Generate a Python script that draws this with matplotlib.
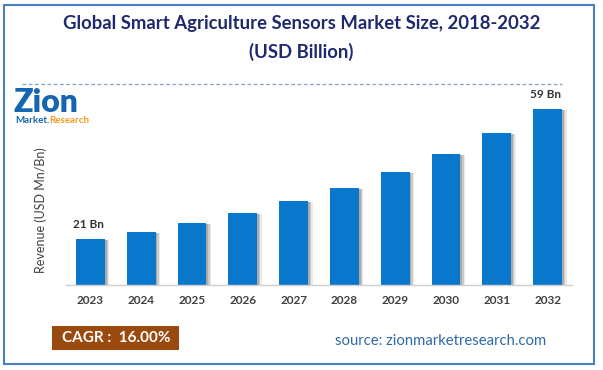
import matplotlib.pyplot as plt
from matplotlib.patches import Rectangle

years = ['2023', '2024', '2025', '2026', '2027', '2028', '2029', '2030', '2031', '2032']
revenue = [21.0, 23.0, 25.7, 28.6, 32.1, 35.9, 40.6, 45.9, 52.0, 59.0]
labels = {0: '21 Bn', 9: '59 Bn'}
cagr_text = 'CAGR :  16.00%'
source_text = 'source: zionmarketresearch.com'

W, H = 603, 370
fig = plt.figure(figsize=(W / 100, H / 100), dpi=100)
plt.rcParams['font.family'] = ['Lato', 'DejaVu Sans']


def fx(px):
    return px / W


def fy(py):
    return 1 - py / H


# outer frame
fig.patches.append(Rectangle((fx(4), fy(364)), fx(594) - fx(4), fy(5) - fy(364),
                             transform=fig.transFigure, fill=False,
                             edgecolor='#4a7fc0', linewidth=1.5))

fig.text(0.5, fy(23), 'Global Smart Agriculture Sensors Market Size, 2018-2032',
         ha='center', va='center', fontsize=13.3, fontweight='bold', color='#1f2a6e')
fig.text(0.5, fy(52), '(USD Billion)', ha='center', va='center',
         fontsize=13.3, fontweight='bold', color='#1f2a6e')
fig.add_artist(plt.Line2D([fx(22), fx(562)], [fy(84), fy(84)], transform=fig.transFigure,
                          color='#7da3d1', linestyle=(0, (3, 2)), linewidth=0.9))

# logo
fig.text(fx(14), fy(112), 'Zion', ha='left', va='baseline', fontsize=23,
         fontweight='heavy', color='#1565b0')
fig.text(fx(15), fy(123), 'Market.', ha='left', va='baseline', fontsize=7,
         fontweight='bold', color='#1565b0')
fig.text(fx(49), fy(123), 'Research', ha='left', va='baseline', fontsize=7,
         fontweight='bold', color='#f39a1e')

ax = fig.add_axes([fx(66), fy(285), fx(572) - fx(66), fy(100) - fy(285)])
x = list(range(len(years)))
base = 7.55
heights = [v - base for v in revenue]

# soft shadow on right side of bars
for off, a in [(0.09, 0.15), (0.06, 0.25), (0.035, 0.35)]:
    ax.bar([i + off for i in x], [h - 0.3 for h in heights], width=0.57, bottom=base,
           color='#707070', alpha=a, linewidth=0, zorder=1)
ax.bar(x, heights, width=0.57, bottom=base, color='#0877cc', linewidth=0, zorder=2)

for i, t in labels.items():
    ax.text(i - 0.04, revenue[i] + 2.6, t, ha='center', va='bottom', fontsize=8.5,
            fontweight='bold', color='#333333')

ax.set_xlim(-0.48, len(years) - 0.52)
ax.set_ylim(base, base + 185 / 3.421)
ax.set_xticks(x)
ax.set_xticklabels(years, fontsize=8.5, fontweight='bold', color='#404040')
ax.set_yticks([])
ax.tick_params(axis='x', length=0, pad=7)
for s in ['top', 'right', 'left']:
    ax.spines[s].set_visible(False)
ax.spines['bottom'].set_color('#d0d0d0')
ax.spines['bottom'].set_linewidth(1)
ax.set_ylabel('Revenue (USD Mn/Bn)', fontsize=9, color='#404040', labelpad=12)
ax.yaxis.set_label_coords(fx(43) - fx(66), (fy(210) - fy(285)) / (fy(100) - fy(285)))

# CAGR box and source
fig.patches.append(Rectangle((fx(52), fy(350)), fx(179) - fx(52), fy(326) - fy(350),
                             transform=fig.transFigure, facecolor='#9a4a0e', edgecolor='none'))
fig.text(fx(116), fy(338), cagr_text, ha='center', va='center', fontsize=11,
         fontweight='bold', color='white')
fig.text(fx(335), fy(341), source_text, ha='left', va='center', fontsize=10.7,
         color='#2e6aa6')

fig.savefig('out.png', dpi=100)
